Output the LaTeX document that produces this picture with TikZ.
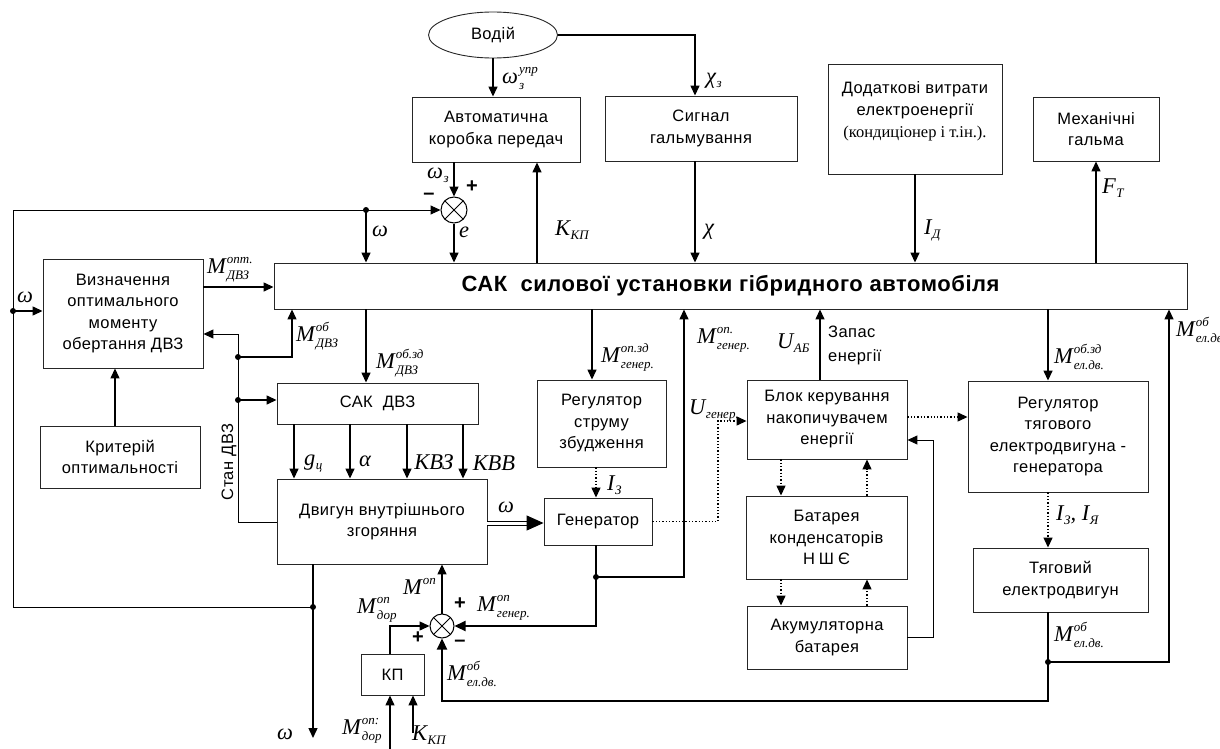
\documentclass[tikz,border=0pt]{standalone}
\usepackage{fontspec}
\setmainfont{Liberation Serif}
\setsansfont[LetterSpace=2.5]{Liberation Sans}
\newfontfamily\lserif{Liberation Serif}
\usetikzlibrary{arrows.meta,shapes.geometric,calc}
\newcommand\scr{\fontsize{13}{13}\selectfont}
\newcommand\ML[3]{#1\kern1pt\rlap{\raisebox{10pt}{\scr #2}}\raisebox{-6pt}{\scr #3}}
\newcommand\MS[2]{#1\kern0.5pt\raisebox{-4pt}{\scr #2}}
\newcommand\MU[2]{#1\kern1pt\raisebox{10pt}{\scr #2}}
\tikzset{
 box/.style={draw=black!85, line width=0.9pt, inner sep=0pt, align=center, font=\sffamily\fontsize{16.5}{21.5}\selectfont},
 lab/.style={inner sep=0pt, font=\lserif\itshape\fontsize{22.5}{22}\selectfont},
 sgn/.style={inner sep=0pt, text height=6pt, text depth=0pt, font=\sffamily\bfseries\fontsize{20}{20}\selectfont},
 arr/.style={line width=1.4pt, -{Triangle[length=10pt,width=9pt]}},
 thn/.style={line width=1pt},
 thk/.style={line width=2.2pt},
 darr/.style={line width=1.3pt, dotted, -{Triangle[length=10pt,width=9pt]}},
 sum/.style={circle, draw, line width=1pt, minimum size=26pt, inner sep=0pt,
   path picture={\draw[line width=1pt] (path picture bounding box.north west) -- (path picture bounding box.south east)
   (path picture bounding box.north east) -- (path picture bounding box.south west);}},
 jdot/.style={circle, fill, inner sep=0pt, minimum size=6pt}
}
\begin{document}
\begin{tikzpicture}[x=1pt,y=-1pt]
\useasboundingbox (0,0) rectangle (1220,749);
% ---------- nodes ----------
\node[ellipse, draw=black!85, line width=0.9pt, minimum width=129pt, minimum height=46pt, inner sep=0pt, font=\sffamily\fontsize{16.5}{20}\selectfont] (vodiy) at (493,35) {Водій};
\node[box, minimum width=168pt, minimum height=65pt] (akp) at (496,129.5) {Автоматична\\коробка передач};
\node[box, minimum width=192pt, minimum height=65pt] (sig) at (701,128.5) {Сигнал\\гальмування};
\node[box, minimum width=174pt, minimum height=110pt] (dod) at (915,119) {};
\node[align=center, inner sep=0pt, font=\sffamily\fontsize{16.5}{22}\selectfont] (dodt) at (915,111) {Додаткові витрати\\електроенергії\\{\lserif\fontsize{16.5}{22}\selectfont(кондиціонер і т.ін.).}};
\node[box, minimum width=126pt, minimum height=64pt] (meh) at (1096,129) {Механічні\\гальма};
\node[box, minimum width=913pt, minimum height=46pt, font=\sffamily\bfseries\fontsize{22}{24}\selectfont] (sak) at (730.5,286) {САК\ \ силової установки гібридного автомобіля};
\node[box, minimum width=160pt, minimum height=109pt] (viz) at (123,313.5) {Визначення\\оптимального\\моменту\\обертання ДВЗ};
\node[box, minimum width=160pt, minimum height=62pt] (krit) at (120,457) {Критерій\\оптимальності};
\node[box, minimum width=201pt, minimum height=41pt] (sakdvz) at (377.5,403.5) {САК\ \ ДВЗ};
\node[box, minimum width=210pt, minimum height=85pt] (dvz) at (382,521.5) {Двигун внутрішнього\\згоряння};
\node[box, minimum width=129pt, minimum height=87pt] (reg) at (601.5,423.5) {Регулятор\\струму\\збудження};
\node[box, minimum width=108pt, minimum height=47pt] (gen) at (598,521.5) {Генератор};
\node[box, minimum width=160pt, minimum height=79pt] (blok) at (827,419.5) {Блок керування\\накопичувачем\\енергії};
\node[box, minimum width=161pt, minimum height=83pt] (bat) at (826.5,537.5) {Батарея\\конденсаторів\\Н\kern4ptШ\kern4ptЄ};
\node[box, minimum width=160pt, minimum height=63pt] (akum) at (827,637.5) {Акумуляторна\\батарея};
\node[box, minimum width=180pt, minimum height=111pt] (regt) at (1058,436.5) {Регулятор\\тягового\\електродвигуна -\\генератора};
\node[box, minimum width=175pt, minimum height=64pt] (tyag) at (1060.5,580) {Тяговий\\електродвигун};
\node[box, minimum width=63pt, minimum height=41pt] (kp) at (392.5,674.5) {КП};
\node[sum] (sum1) at (454,210) {};
\node[sum, minimum size=24pt] (sum2) at (442,626) {};
% ---------- coordinates ----------
\coordinate (xchi) at (695,0);
\coordinate (xk) at (537,0);
\coordinate (xL) at (13,0);
\coordinate (xs) at (238,0);
\coordinate (xmob) at (292,0);
\coordinate (xmz) at (366,0);
\coordinate (xk2) at (115,0);
\coordinate (yopt) at (0,287);
\coordinate (ystan) at (0,522);
\coordinate (ystt) at (0,334);
\coordinate (xa) at (294,0);
\coordinate (xb) at (350,0);
\coordinate (xc) at (407,0);
\coordinate (xd) at (463,0);
\coordinate (yw2) at (0,523);
\coordinate (xgz) at (592,0);
\coordinate (xg) at (596,0);
\coordinate (xgo) at (684,0);
\coordinate (xu) at (718,0);
\coordinate (yu) at (0,421);
\coordinate (xab) at (820,0);
\coordinate (yrt) at (0,417);
\coordinate (xak) at (933,0);
\coordinate (yak) at (0,440);
\coordinate (xbd) at (781,0);
\coordinate (xbu) at (867,0);
\coordinate (xt) at (1048,0);
\coordinate (xr) at (1169,0);
\coordinate (yb) at (0,701);
\coordinate (xkp) at (390,0);
\coordinate (xdv) at (313,0);
\coordinate (j1) at (366,210);
\coordinate (j0) at (13,311);
\coordinate (js1) at (238,357);
\coordinate (js2) at (238,400);
\coordinate (jg) at (596,577);
\coordinate (jt) at (1048,662);
\coordinate (dvzj) at (313,607);
\coordinate (wout) at (313,738);
\coordinate (kpin1) at (390,749);
\coordinate (kpin2) at (413,733);
% ---------- connectors ----------
\draw[arr] (vodiy.south) -- (vodiy.south |- akp.north);
\draw[arr] (vodiy.east) -- (xchi |- vodiy.east) -- (xchi |- sig.north);
\draw[arr] (sum1.north |- akp.south) -- (sum1.north);
\draw[thn, -{Triangle[length=10pt,width=9pt]}] (dvzj) -- (xL |- dvzj) -- (xL |- sum1.west) -- (sum1.west);
\draw[arr] (j1) -- (j1 |- sak.north);
\draw[arr] (sum1.south) -- (sum1.south |- sak.north);
\draw[arr] (xk |- sak.north) -- (xk |- akp.south);
\draw[arr] (xchi |- sig.south) -- (xchi |- sak.north);
\draw[arr] (dod.south) -- (dod.south |- sak.north);
\draw[arr] (meh.south |- sak.north) -- (meh.south);
\draw[arr] (viz.east |- yopt) -- (sak.west |- yopt);
\draw[arr] (j0) -- (j0 -| viz.west);
\draw[arr] (xk2 |- krit.north) -- (xk2 |- viz.south);
\draw[thn, -{Triangle[length=10pt,width=9pt]}] (dvz.west |- ystan) -- (xs |- ystan) -- (xs |- ystt) -- (viz.east |- ystt);
\draw[arr] (js1) -- (xmob |- js1) -- (xmob |- sak.south);
\draw[arr] (js2) -- (js2 -| sakdvz.west);
\draw[arr] (xmz |- sak.south) -- (xmz |- sakdvz.north);
\foreach \c in {xa,xb,xc,xd} {\draw[arr] (\c |- sakdvz.south) -- (\c |- dvz.north);}
\draw[line width=1pt, double, double distance=3pt] (dvz.east |- yw2) -- ($(gen.west |- yw2)+(-14,0)$);
\draw[line width=1pt, -{Triangle[length=17pt,width=15pt]}] ($(gen.west |- yw2)+(-16,0)$) -- (gen.west |- yw2);
\draw[arr] (xgz |- sak.south) -- (xgz |- reg.north);
\draw[darr] (xg |- reg.south) -- (xg |- gen.north);
\draw[thk] (xg |- gen.south) -- (jg);
\draw[thk, -{Triangle[length=11pt,width=10pt]}] (jg) -- (xg |- sum2.east) -- (sum2.east);
\draw[arr] (jg) -- (xgo |- jg) -- (xgo |- sak.south);
\draw[darr] (gen.east) -- (xu |- gen.east) -- (xu |- yu) -- (blok.west |- yu);
\draw[arr] (xab |- blok.north) -- (xab |- sak.south);
\draw[darr] (blok.east |- yrt) -- (regt.west |- yrt);
\draw[thn, -{Triangle[length=10pt,width=9pt]}] (akum.east) -- (xak |- akum.east) -- (xak |- yak) -- (blok.east |- yak);
\draw[darr] (xbd |- blok.south) -- (xbd |- bat.north);
\draw[darr] (xbu |- bat.north) -- (xbu |- blok.south);
\draw[darr] (xbd |- bat.south) -- (xbd |- akum.north);
\draw[darr] (xbu |- akum.north) -- (xbu |- bat.south);
\draw[arr] (xt |- sak.south) -- (xt |- regt.north);
\draw[darr] (xt |- regt.south) -- (xt |- tyag.north);
\draw[thk, -{Triangle[length=11pt,width=10pt]}] (xt |- tyag.south) -- (jt) -- (xt |- yb) -- (sum2.south |- yb) -- (sum2.south);
\draw[arr] (jt) -- (xr |- jt) -- (xr |- sak.south);
\draw[arr] (sum2.north) -- (sum2.north |- dvz.south);
\draw[arr] (xkp |- kp.north) -- (xkp |- sum2.west) -- (sum2.west);
\draw[arr] (kpin1) -- (kpin1 |- kp.south);
\draw[arr] (kpin2) -- (kpin2 |- kp.south);
\draw[arr] (xdv |- dvz.south) -- (wout);
% junction dots
\foreach \p in {j1,j0,js1,js2,jg,jt,dvzj} {\node[jdot] at (\p) {};}
% ---------- labels ----------
\node[lab, anchor=west] (l1) at (502,79) {\ML{ω}{упр}{з}};
\node[lab, anchor=west] (l2) at (706,81) {\MS{χ}{з}};
\node[lab, anchor=west] (l3) at (427,175) {\MS{ω}{з}};
\node[sgn] (s1) at (429,196) {–};
\node[sgn] (s2) at (472,189) {+};
\node[lab] (l5) at (380,231) {ω};
\node[lab] (l6) at (464,232) {e};
\node[lab, anchor=west] (l7) at (555,230) {\MS{K}{КП}};
\node[lab] (l8) at (709,232) {χ};
\node[lab, anchor=west] (l9) at (924,230) {\MS{I}{Д}};
\node[lab, anchor=west] (l10) at (1102,188) {\MS{F}{T}};
\node[lab, anchor=west] (l11) at (207,270) {\ML{M}{опт.}{ДВЗ}};
\node[lab] (l12) at (25,297) {ω};
\node[lab, anchor=west] (l13) at (296,336) {\ML{M}{об}{ДВЗ}};
\node[lab, anchor=west] (l14) at (376,363) {\ML{M}{об.зд}{ДВЗ}};
\node[lab, anchor=west] (l15) at (304,463) {\MS{g}{ц}};
\node[lab] (l16) at (365,461) {α};
\node[lab] (l17) at (434,462) {КВЗ};
\node[lab] (l18) at (494,463) {КВВ};
\node[lab, anchor=west] (l19) at (601,357) {\ML{M}{оп.зд}{генер.}};
\node[lab, anchor=west] (l20) at (697,340) {\ML{M}{оп.}{генер.}};
\node[lab, anchor=west] (l21) at (689,411) {\MS{U}{генер.}};
\node[lab, anchor=west] (l22) at (607,485) {\MS{I}{З}};
\node[lab, anchor=west] (l23) at (777,343) {\MS{U}{АБ}};
\node[anchor=west, align=left, inner sep=0pt, font=\sffamily\fontsize{16.5}{24}\selectfont] (l24) at (828,345) {Запас\\енергії};
\node[lab, anchor=west] (l25) at (1054,357) {\ML{M}{об.зд}{ел.дв.}};
\node[lab, anchor=west] (l26) at (1176,330) {\ML{M}{об}{ел.дв.}};
\node[lab, anchor=west] (l27) at (1056,515) {\MS{I}{З}, \MS{I}{Я}};
\node[lab, anchor=west] (l28) at (1054,635) {\ML{M}{об}{ел.дв.}};
\node[lab, anchor=west] (l29) at (403,586) {\MU{M}{оп}};
\node[lab, anchor=west] (l30) at (357,610) {\ML{M}{оп}{дор}};
\node[sgn] (s3) at (418,640) {+};
\node[sgn] (s4) at (460,606) {+};
\node[sgn] (s5) at (460,643) {–};
\node[lab, anchor=west] (l34) at (477,608) {\ML{M}{оп}{генер.}};
\node[lab, anchor=west] (l35) at (447,674) {\ML{M}{об}{ел.дв.}};
\node[lab, anchor=west] (l36) at (342,731) {\ML{M}{оп:}{дор}};
\node[lab, anchor=west] (l37) at (412,735) {\MS{K}{КП}};
\node[lab] (l38) at (285,734) {ω};
\node[lab] (l39) at (506,507) {ω};
\node[rotate=90, inner sep=0pt, font=\sffamily\fontsize{16.5}{20}\selectfont] (l40) at (229,462) {Стан ДВЗ};
\end{tikzpicture}
\end{document}
